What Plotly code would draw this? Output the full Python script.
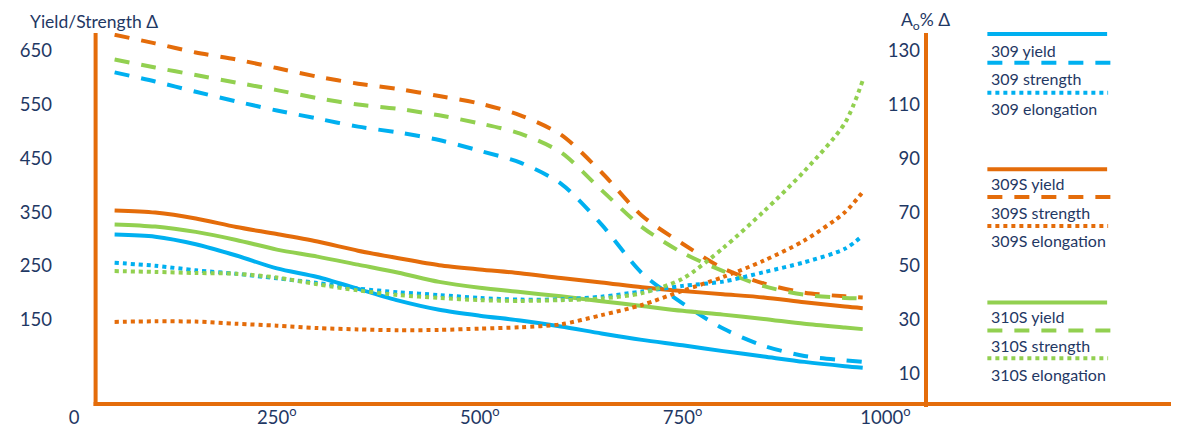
import plotly.graph_objects as go

# ---------------- data ----------------
temps = [50, 100, 150, 200, 250, 300, 350, 400, 450, 500,
         550, 600, 650, 700, 750, 800, 850, 900, 950, 972]

yield_309 = [308, 304, 290, 269, 245, 229, 207, 185, 168, 157,
             148, 137, 124, 112, 102, 91, 81, 71, 63, 60]
strength_309 = [610, 593, 574, 556, 539, 524, 509, 498, 484, 464,
                442, 403, 327, 236, 180, 133, 101, 82, 74, 71]
elong_309 = [51.1, 50.0, 48.3, 47.0, 45.3, 43.6, 41.5, 40.1, 39.1, 38.0,
             37.4, 37.5, 38.5, 40.4, 42.5, 44.1, 47.6, 51.3, 56.3, 61.2]

yield_309S = [353, 349, 338, 322, 309, 295, 278, 264, 251, 243,
              236, 227, 219, 210, 203, 197, 191, 182, 174, 171]
strength_309S = [680, 664, 647, 634, 618, 602, 589, 579, 566, 552,
                 530, 494, 424, 343, 291, 245, 217, 200, 193, 191]
elong_309S = [29.1, 29.3, 29.2, 28.4, 27.7, 26.8, 26.3, 26.0, 26.1, 26.6,
              27.1, 28.2, 31.6, 35.4, 40.7, 45.8, 51.9, 59.4, 69.9, 77.5]

yield_310S = [327, 323, 313, 298, 280, 267, 252, 237, 220, 209,
              201, 193, 184, 175, 166, 159, 151, 142, 135, 132]
strength_310S = [634, 619, 605, 591, 577, 562, 550, 542, 530, 515,
                 496, 461, 391, 322, 274, 240, 212, 196, 190, 189]
elong_310S = [48.0, 47.7, 47.3, 47.0, 45.6, 43.1, 40.8, 39.1, 38.0, 37.2,
              36.9, 37.2, 37.8, 39.8, 45.2, 56.6, 70.2, 85.2, 103.1, 119.0]

x_ticks = [0, 250, 500, 750, 1000]
x_tick_text = ["0", "250<sup>o</sup>", "500<sup>o</sup>", "750<sup>o</sup>", "1000<sup>o</sup>"]
left_ticks = [650, 550, 450, 350, 250, 150]
right_ticks = [130, 110, 90, 70, 50, 30, 10]

legend_names = ["309 yield", "309 strength", "309 elongation",
                "309S yield", "309S strength", "309S elongation",
                "310S yield", "310S strength", "310S elongation"]

# ---------------- styles ----------------
BLUE = "#00B0F0"
ORANGE = "#E46C0A"
GREEN = "#92D050"
NAVY = "#1F3864"
FONT = "Lato"
DASH = "15px,12px"
DOT = "4px,4px"
LW = 4

W, H = 1179, 432
OFF = 8  # page body margin of the rendered html
# plot area in on-screen pixel coordinates
L, R, T, B = 48, 926, 33, 406


def px_x(px):
    return (px - L) / (R - L)


def px_y(py):
    return (B - py) / (B - T)


fig = go.Figure()

series = [
    (yield_309, BLUE, "solid", "y"),
    (strength_309, BLUE, DASH, "y"),
    (elong_309, BLUE, DOT, "y2"),
    (yield_309S, ORANGE, "solid", "y"),
    (strength_309S, ORANGE, DASH, "y"),
    (elong_309S, ORANGE, DOT, "y2"),
    (yield_310S, GREEN, "solid", "y"),
    (strength_310S, GREEN, DASH, "y"),
    (elong_310S, GREEN, DOT, "y2"),
]

for name, (vals, col, dash, ax) in zip(legend_names, series):
    fig.add_trace(go.Scatter(
        x=temps, y=vals, name=name, mode="lines", yaxis=ax,
        line=dict(color=col, width=LW, dash=dash, shape="spline", smoothing=0.8),
        hoverinfo="skip",
    ))

shapes = []
# orange frame lines
shapes.append(dict(type="line", xref="paper", yref="paper",
                   x0=px_x(87), x1=px_x(87), y0=px_y(33), y1=px_y(408),
                   line=dict(color=ORANGE, width=4)))
shapes.append(dict(type="line", xref="paper", yref="paper",
                   x0=px_x(926), x1=px_x(926), y0=px_y(33), y1=px_y(409),
                   line=dict(color=ORANGE, width=4)))
shapes.append(dict(type="line", xref="paper", yref="paper",
                   x0=px_x(85), x1=px_x(1185), y0=px_y(406), y1=px_y(406),
                   line=dict(color=ORANGE, width=4)))

annotations = []
# custom legend (line above label)
leg_line_y = [34, 63, 93, 170, 198, 227, 304, 332, 360]
leg_text_y = [51, 79, 109, 184, 213, 242, 318, 347, 376]
for (vals, col, dash, ax), name, ly, ty in zip(series, legend_names, leg_line_y, leg_text_y):
    x1 = 1109 if dash == "solid" else (1116 if dash == DASH else 1110)
    shapes.append(dict(type="line", xref="paper", yref="paper",
                       x0=px_x(988), x1=px_x(x1), y0=px_y(ly), y1=px_y(ly),
                       line=dict(color=col, width=LW, dash=dash)))
    annotations.append(dict(xref="paper", yref="paper", x=px_x(990), y=px_y(ty),
                            xanchor="left", yanchor="middle", showarrow=False,
                            text=name, font=dict(family=FONT, size=16, color=NAVY)))

annotations.append(dict(xref="paper", yref="paper", x=px_x(19), y=px_y(21),
                        xanchor="left", yanchor="middle", showarrow=False,
                        text="Yield/Strength Δ", font=dict(family=FONT, size=17.5, color=NAVY)))
annotations.append(dict(xref="paper", yref="paper", x=px_x(899), y=px_y(21),
                        xanchor="left", yanchor="middle", showarrow=False,
                        text="A<sub>o</sub>% Δ", font=dict(family=FONT, size=17.5, color=NAVY)))

fig.update_layout(
    width=W, height=H,
    margin=dict(l=L - OFF, r=W - (R - OFF), t=T - OFF, b=H - (B - OFF), pad=0),
    paper_bgcolor="white", plot_bgcolor="white",
    showlegend=False,
    shapes=shapes, annotations=annotations,
    xaxis=dict(range=[-21, 1050], tickvals=x_ticks, ticktext=x_tick_text,
               showgrid=False, zeroline=False, showline=False, ticks="",
               tickfont=dict(family=FONT, size=18.5, color=NAVY)),
    yaxis=dict(range=[-7.41, 683.3], tickvals=left_ticks,
               showgrid=False, zeroline=False, showline=False, ticks="",
               ticklabelstandoff=4,
               tickfont=dict(family=FONT, size=18.5, color=NAVY)),
    yaxis2=dict(range=[-1.48, 136.67], tickvals=right_ticks, overlaying="y", side="right",
                showgrid=False, zeroline=False, showline=False, ticks="",
                ticklabelposition="inside", ticklabelstandoff=3,
                tickfont=dict(family=FONT, size=18.5, color=NAVY)),
)

fig.write_html("out.html")
